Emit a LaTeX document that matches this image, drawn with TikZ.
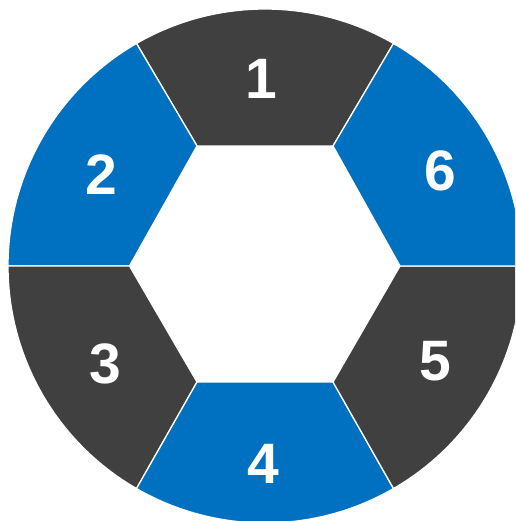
\documentclass[tikz,border=0pt]{standalone}
\usepackage{fontspec}
\setmainfont{Liberation Sans}
\usetikzlibrary{calc}
\definecolor{segdark}{HTML}{404040}
\definecolor{segblue}{HTML}{0070C0}
\tikzset{
  x=1pt, y=1pt,
  seg/.style={draw=white, line width=1.3pt, line join=round},
  darkseg/.style={seg, fill=segdark},
  blueseg/.style={seg, fill=segblue},
  lbl/.style={text=white, inner sep=0pt, font=\bfseries\fontsize{57}{57}\selectfont}
}
\begin{document}
\begin{tikzpicture}
\useasboundingbox (0,0) rectangle (515,-521);
\clip (0,0) rectangle (515,-521);
\def\R{257}
\coordinate (C) at (265,-266);
\coordinate (H0) at (400,-266);
\coordinate (H60) at (333,-146);
\coordinate (H120) at (197,-146);
\coordinate (H180) at (129.5,-266);
\coordinate (H240) at (197,-382);
\coordinate (H300) at (333,-382);
% segments
\path[darkseg] (H60) -- ($(C)+(60:\R)$) arc[start angle=60, end angle=120, radius=\R] -- (H120) -- cycle;
\path[blueseg] (H120) -- ($(C)+(120:\R)$) arc[start angle=120, end angle=180, radius=\R] -- (H180) -- cycle;
\path[darkseg] (H180) -- ($(C)+(180:\R)$) arc[start angle=180, end angle=240, radius=\R] -- (H240) -- cycle;
\path[blueseg] (H240) -- ($(C)+(240:\R)$) arc[start angle=240, end angle=300, radius=\R] -- (H300) -- cycle;
\path[darkseg] (H300) -- ($(C)+(300:\R)$) arc[start angle=300, end angle=360, radius=\R] -- (H0) -- cycle;
\path[blueseg] (H0) -- ($(C)+(0:\R)$) arc[start angle=0, end angle=60, radius=\R] -- (H60) -- cycle;
% labels
\node[lbl] (l1) at (261,-78.5) {1};
\node[lbl] (l2) at (101,-175) {2};
\node[lbl] (l3) at (105,-364) {3};
\node[lbl] (l4) at (263,-464) {4};
\node[lbl] (l5) at (435,-361) {5};
\node[lbl] (l6) at (440,-171) {6};
\end{tikzpicture}
\end{document}
